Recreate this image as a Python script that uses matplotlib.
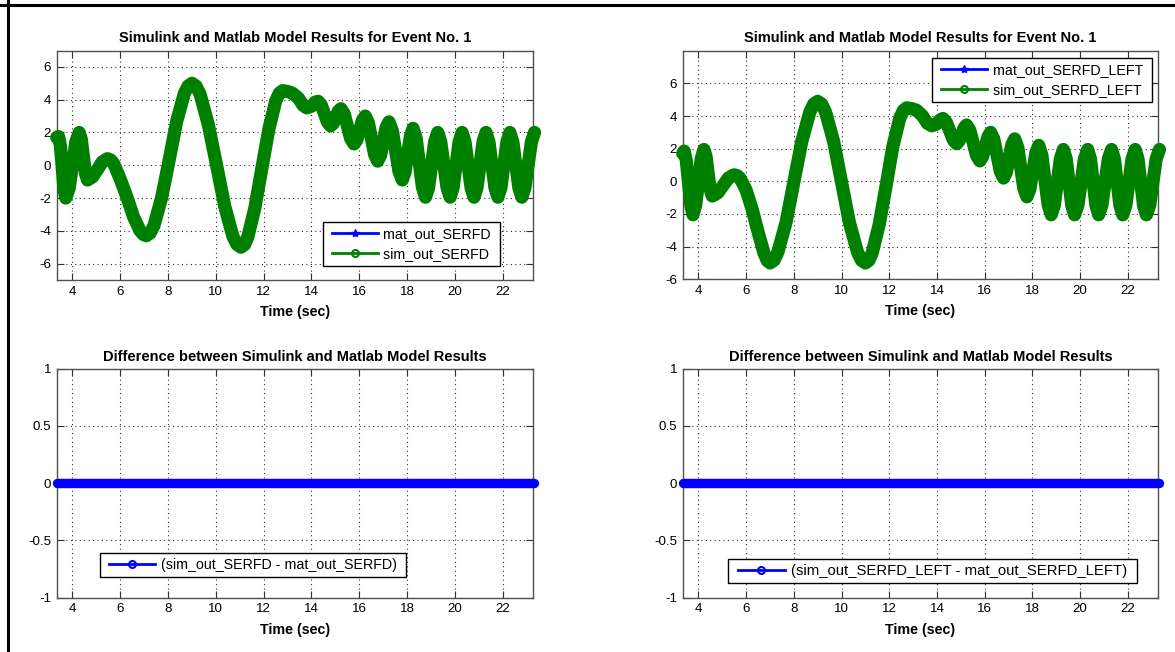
import numpy as np
import matplotlib
matplotlib.use("Agg")
import matplotlib.pyplot as plt
from matplotlib.lines import Line2D
from matplotlib.legend_handler import HandlerLine2D

plt.rcParams['font.family'] = ['Liberation Sans', 'DejaVu Sans']

# ---------------- data ----------------
t_left = [3.34, 3.42, 3.495, 3.57, 3.645, 3.72, 3.86, 4.00, 4.14, 4.28,
          4.37, 4.455, 4.54, 4.63, 4.84, 5.05, 5.25, 5.46,
          5.60, 5.73, 6.00, 6.28, 6.55, 6.82, 6.96, 7.09,
          7.25, 7.41, 7.73, 8.05, 8.36, 8.68, 8.84, 9.00,
          9.17, 9.34, 9.68, 10.03, 10.37, 10.71, 10.88, 11.05,
          11.20, 11.34, 11.63, 11.92, 12.21, 12.50, 12.65, 12.79,
          13.0, 13.2, 13.45, 13.65, 13.8, 14.0, 14.15, 14.28,
          14.41, 14.54, 14.67, 14.8, 14.91, 15.015, 15.12, 15.23,
          15.37, 15.505, 15.64, 15.78, 15.90, 16.015, 16.13, 16.25,
          16.38, 16.51, 16.64, 16.77, 16.89, 17.005, 17.12, 17.24,
          17.38, 17.52, 17.66, 17.8, 17.91, 18.025, 18.14, 18.25,
          18.38, 18.51, 18.64, 18.77, 18.90, 19.025, 19.15, 19.28,
          19.41, 19.54, 19.67, 19.8, 19.925, 20.05, 20.175, 20.3,
          20.425, 20.55, 20.675, 20.8, 20.925, 21.05, 21.175, 21.3,
          21.425, 21.55, 21.675, 21.8, 21.925, 22.05, 22.175, 22.3,
          22.425, 22.55, 22.675, 22.8, 22.93, 23.065, 23.2, 23.33]
sim_out_SERFD = [1.70, 1.75, 1.20, -0.13, -1.45, -2.00, -1.42, 0.00, 1.42, 2.00,
                 1.58, 0.55, -0.48, -0.90, -0.71, -0.25, 0.21, 0.40,
                 0.32, 0.09, -0.85, -1.95, -3.13, -3.98, -4.22, -4.30,
                 -4.14, -3.68, -1.98, 0.35, 2.68, 4.38, 4.84, 5.00,
                 4.83, 4.33, 2.50, 0.00, -2.50, -4.33, -4.83, -5.00,
                 -4.84, -4.36, -2.61, -0.23, 2.16, 3.91, 4.39, 4.55,
                 4.50, 4.40, 4.10, 3.65, 3.50, 3.60, 3.85, 3.90,
                 3.68, 3.15, 2.62, 2.40, 2.55, 2.93, 3.30, 3.45,
                 3.14, 2.38, 1.61, 1.30, 1.55, 2.15, 2.75, 3.00,
                 2.60, 1.63, 0.65, 0.25, 0.60, 1.45, 2.30, 2.65,
                 2.13, 0.88, -0.38, -0.90, -0.44, 0.68, 1.79, 2.25,
                 1.64, 0.15, -1.34, -1.95, -1.37, 0.02, 1.42, 2.00,
                 1.42, 0.02, -1.37, -1.95, -1.37, 0.02, 1.42, 2.00,
                 1.42, 0.02, -1.37, -1.95, -1.37, 0.02, 1.42, 2.00,
                 1.42, 0.02, -1.37, -1.95, -1.37, 0.02, 1.42, 2.00,
                 1.42, 0.02, -1.37, -1.95, -1.37, 0.02, 1.42, 2.00]
mat_out_SERFD = list(sim_out_SERFD)

t_right = [3.34, 3.40, 3.49, 3.585, 3.68, 3.77, 3.885, 4.00, 4.115, 4.23,
           4.32, 4.405, 4.49, 4.58, 4.81, 5.035, 5.26, 5.49,
           5.62, 5.74, 5.99, 6.25, 6.50, 6.75, 6.88, 7.00,
           7.17, 7.33, 7.67, 8.00, 8.33, 8.67, 8.83, 9.00,
           9.17, 9.33, 9.67, 10.00, 10.33, 10.67, 10.83, 11.00,
           11.15, 11.29, 11.58, 11.87, 12.15, 12.44, 12.59, 12.73,
           12.95, 13.15, 13.4, 13.6, 13.78, 13.97, 14.12, 14.25,
           14.395, 14.54, 14.685, 14.83, 14.93, 15.035, 15.14, 15.24,
           15.38, 15.52, 15.66, 15.8, 15.91, 16.025, 16.14, 16.25,
           16.385, 16.52, 16.655, 16.79, 16.91, 17.025, 17.14, 17.26,
           17.39, 17.515, 17.64, 17.77, 17.895, 18.02, 18.145, 18.27,
           18.40, 18.53, 18.66, 18.79, 18.92, 19.045, 19.17, 19.30,
           19.42, 19.535, 19.65, 19.77, 19.91, 20.045, 20.18, 20.32,
           20.435, 20.55, 20.665, 20.78, 20.915, 21.05, 21.185, 21.32,
           21.44, 21.555, 21.67, 21.79, 21.92, 22.05, 22.18, 22.31,
           22.43, 22.545, 22.66, 22.78, 22.92, 23.055, 23.19, 23.33]
sim_out_SERFD_LEFT = [1.70, 1.85, 1.28, -0.10, -1.48, -2.05, -1.47, -0.05, 1.37, 1.95,
                      1.53, 0.53, -0.48, -0.90, -0.71, -0.25, 0.21, 0.40,
                      0.35, 0.20, -0.50, -1.70, -3.10, -4.40, -4.85, -5.00,
                      -4.83, -4.34, -2.53, -0.05, 2.43, 4.24, 4.73, 4.90,
                      4.73, 4.24, 2.43, -0.05, -2.53, -4.34, -4.83, -5.00,
                      -4.84, -4.36, -2.63, -0.25, 2.13, 3.86, 4.34, 4.50,
                      4.45, 4.35, 4.00, 3.55, 3.40, 3.50, 3.75, 3.85,
                      3.62, 3.08, 2.53, 2.30, 2.47, 2.88, 3.28, 3.45,
                      3.13, 2.35, 1.57, 1.25, 1.51, 2.13, 2.74, 3.00,
                      2.59, 1.60, 0.61, 0.20, 0.55, 1.40, 2.25, 2.60,
                      2.08, 0.83, -0.43, -0.95, -0.49, 0.63, 1.74, 2.20,
                      1.58, 0.08, -1.43, -2.05, -1.47, -0.05, 1.37, 1.95,
                      1.37, -0.05, -1.47, -2.05, -1.47, -0.05, 1.37, 1.95,
                      1.37, -0.05, -1.47, -2.05, -1.47, -0.05, 1.37, 1.95,
                      1.37, -0.05, -1.47, -2.05, -1.47, -0.05, 1.37, 1.95,
                      1.37, -0.05, -1.47, -2.05, -1.47, -0.05, 1.37, 1.95]
mat_out_SERFD_LEFT = list(sim_out_SERFD_LEFT)

xticks = [4, 6, 8, 10, 12, 14, 16, 18, 20, 22]
yticks_top = [-6, -4, -2, 0, 2, 4, 6]
yticks_bot = [-1, -0.5, 0, 0.5, 1]
ytick_labels_bot = ['-1', '-0.5', '0', '0.5', '1']

title_top = 'Simulink and Matlab Model Results for Event No. 1'
title_bot = 'Difference between Simulink and Matlab Model Results'
xlabel = 'Time (sec)'

GREEN = '#008000'
BLUE = '#0000FF'

# ---------------- figure ----------------
W, H = 1175, 652
fig = plt.figure(figsize=(W / 100, H / 100), dpi=100)
fig.patch.set_facecolor('white')


def px_rect(l, r, t, b):
    return [l / W, (H - b) / H, (r - l) / W, (b - t) / H]


ax_tl = fig.add_axes(px_rect(56.7, 533.3, 50.5, 280))
ax_tr = fig.add_axes(px_rect(682.7, 1158.3, 50.7, 279.3))
ax_bl = fig.add_axes(px_rect(56.7, 533.3, 368.7, 597.7))
ax_br = fig.add_axes(px_rect(682.7, 1158.3, 368.7, 597.7))


def style(ax, ylim, yticks, ylabels=None):
    ax.set_xlim(3.34, 23.28)
    ax.set_ylim(*ylim)
    ax.set_xticks(xticks)
    ax.set_xticklabels([str(v) for v in xticks])
    ax.set_yticks(yticks)
    if ylabels is not None:
        ax.set_yticklabels(ylabels)
    else:
        ax.set_yticklabels([str(v) for v in yticks])
    ax.tick_params(direction='in', length=5, width=0.8, top=True, right=True,
                   labelsize=9.6, colors='#303030', labelcolor='black', pad=4)
    for s in ax.spines.values():
        s.set_color('#505050')
        s.set_linewidth(1.0)
    ax.grid(True, linestyle=(0, (1, 3)), color='#303030', linewidth=0.8)
    ax.set_axisbelow(True)
    ax.set_xlabel(xlabel, fontsize=10.3, fontweight='bold', labelpad=5.5)


HMAP = {Line2D: HandlerLine2D(xpad=0.3)}


def make_legend(ax, handles, labels, loc, anchor, fs):
    leg = ax.legend(handles, labels, loc=loc, bbox_to_anchor=anchor,
                    fontsize=fs, frameon=True, fancybox=False,
                    edgecolor='black', framealpha=1, handlelength=3.5,
                    handletextpad=0.4, borderpad=0.35, labelspacing=0.45,
                    borderaxespad=0, handler_map=HMAP)
    leg.get_frame().set_linewidth(1.0)
    leg.set_zorder(5)
    return leg


def top_panel(ax, t, mat, sim, mat_name, sim_name, loc, anchor):
    ax.plot(t, mat, color=BLUE, lw=1.5, zorder=2, clip_on=False)
    ax.plot(t, sim, color=GREEN, lw=9.5, solid_capstyle='round',
            solid_joinstyle='round', zorder=3, clip_on=False)
    handles = [Line2D([], [], color=BLUE, lw=2, marker='*', ms=6),
               Line2D([], [], color=GREEN, lw=2, marker='o', ms=5,
                      mfc='none', mew=1.5)]
    make_legend(ax, handles, [mat_name + ' ', sim_name + ' '], loc, anchor, 10.3)
    ax.set_title(title_top, fontsize=10.5, fontweight='bold', pad=6)


def bot_panel(ax, t, sim, mat, name, anchor, fs):
    diff = np.subtract(sim, mat)
    ax.plot(t, diff, color=BLUE, lw=6.8, solid_capstyle='round', zorder=3,
            clip_on=False)
    handles = [Line2D([], [], color=BLUE, lw=2, marker='o', ms=5,
                      mfc='none', mew=1.5)]
    make_legend(ax, handles, [name + ' '], 'lower left', anchor, fs)
    ax.set_title(title_bot, fontsize=10.5, fontweight='bold', pad=5.5)


style(ax_tl, (-7, 7), yticks_top)
style(ax_tr, (-6, 8), yticks_top)
style(ax_bl, (-1, 1), yticks_bot, ytick_labels_bot)
style(ax_br, (-1, 1), yticks_bot, ytick_labels_bot)

top_panel(ax_tl, t_left, mat_out_SERFD, sim_out_SERFD,
          'mat_out_SERFD', 'sim_out_SERFD', 'lower right', (0.930, 0.061))
top_panel(ax_tr, t_right, mat_out_SERFD_LEFT, sim_out_SERFD_LEFT,
          'mat_out_SERFD_LEFT', 'sim_out_SERFD_LEFT', 'upper right', (0.986, 0.968))
bot_panel(ax_bl, t_left, sim_out_SERFD, mat_out_SERFD,
          '(sim_out_SERFD - mat_out_SERFD)', (0.091, 0.090), 10.3)
bot_panel(ax_br, t_right, sim_out_SERFD_LEFT, mat_out_SERFD_LEFT,
          '(sim_out_SERFD_LEFT - mat_out_SERFD_LEFT)', (0.095, 0.064), 10.75)

# figure frame (left and top edges)
fig.add_artist(Line2D([7.5 / W, 7.5 / W], [0, 1], transform=fig.transFigure,
                      color='black', lw=2.2))
fig.add_artist(Line2D([0, 1], [1 - 5 / H, 1 - 5 / H], transform=fig.transFigure,
                      color='black', lw=2.2))

fig.savefig('out.png', dpi=100)
